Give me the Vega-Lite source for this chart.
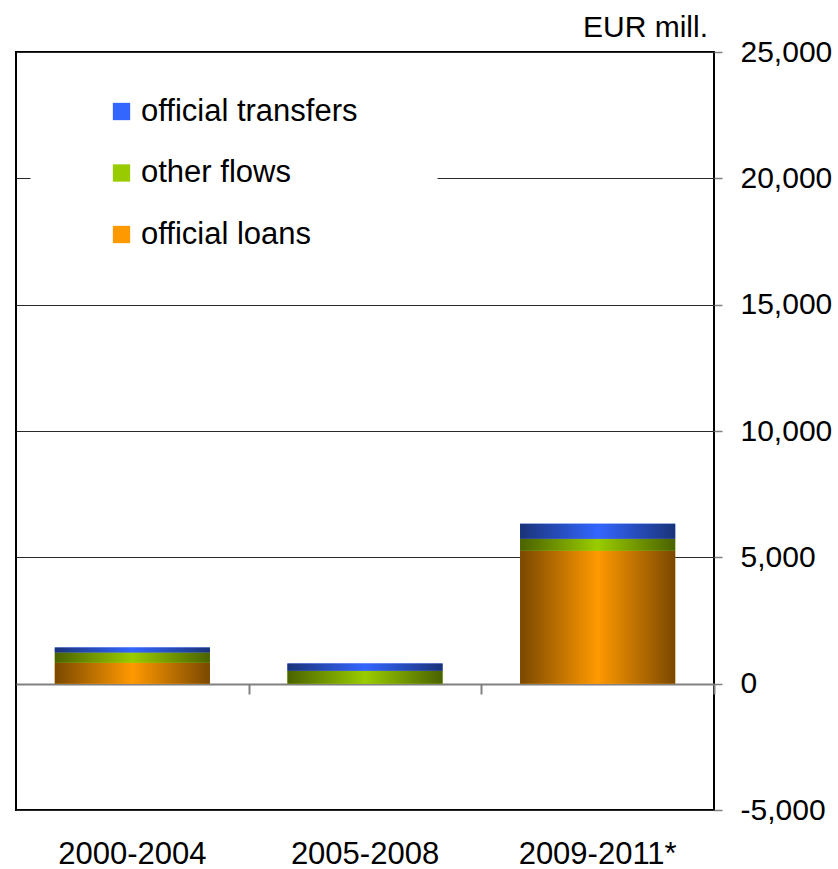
{
  "$schema": "https://vega.github.io/schema/vega-lite/v6.json",
  "width": 698,
  "height": 758,
  "autosize": {"type": "none"},
  "padding": {"left": 16, "top": 52, "right": 124, "bottom": 59},
  "background": "white",
  "title": {"text": "EUR mill.", "anchor": "end", "frame": "group", "fontSize": 30, "fontWeight": "normal", "color": "black", "font": "Liberation Sans", "offset": 8, "dx": -6, "dy": 14},
  "data": {"values": [
    {"period": "2000-2004", "series": "official loans", "value": 830},
    {"period": "2000-2004", "series": "other flows", "value": 400},
    {"period": "2000-2004", "series": "official transfers", "value": 200},
    {"period": "2005-2008", "series": "official loans", "value": 0},
    {"period": "2005-2008", "series": "other flows", "value": 515},
    {"period": "2005-2008", "series": "official transfers", "value": 280},
    {"period": "2009-2011*", "series": "official loans", "value": 5265},
    {"period": "2009-2011*", "series": "other flows", "value": 475},
    {"period": "2009-2011*", "series": "official transfers", "value": 594}
  ]},
  "transform": [
    {"stack": "value", "groupby": ["period"], "as": ["v0", "v1"]}
  ],
  "layer": [
    {
      "mark": {"type": "bar"},
      "encoding": {
        "x": {"field": "period", "type": "nominal", "sort": null,
          "scale": {"paddingInner": 0.333, "paddingOuter": 0.1667},
          "axis": {"orient": "bottom", "title": null, "domain": false, "ticks": false, "labelAngle": 0, "labelFontSize": 31, "labelColor": "black", "labelBaseline": "alphabetic", "labelPadding": 53, "labelFont": "Liberation Sans", "grid": false}},
        "y": {"field": "v0", "type": "quantitative",
          "scale": {"domain": [-5000, 25000], "nice": false, "zero": false},
          "axis": {"orient": "right", "title": null, "values": [-5000, 0, 5000, 10000, 15000, 20000, 25000], "labelExpr": "(datum.value < 0 ? '-' : '') + format(abs(datum.value), ',.0f')", "labelFontSize": 30, "labelColor": "black", "labelFont": "Liberation Sans", "labelAlign": "left", "labelPadding": 18, "tickSize": 8, "tickColor": "#808080", "tickWidth": 1.5, "domain": false, "grid": true,
            "gridColor": {"condition": {"test": "datum.value === 0", "value": "#808080"}, "value": "#2a2a2a"},
            "gridWidth": {"condition": {"test": "datum.value === 0", "value": 2}, "value": 1.2},
            "gridDash": {"condition": {"test": "datum.value === 20000", "value": [277, 407, 20, 0]}, "value": [2000, 0]}}},
        "y2": {"field": "v1"},
        "color": {"field": "series", "type": "nominal",
          "scale": {"domain": ["official transfers", "other flows", "official loans"], "range": ["#3366ff", "#99cc00", "#ff9900"]},
          "legend": {"orient": "none", "legendX": 90, "legendY": 44, "title": null, "symbolType": "square", "symbolSize": 300, "symbolStrokeWidth": 0, "labelFontSize": 31, "labelFont": "Liberation Sans", "labelColor": "black", "labelOffset": 4, "rowPadding": 29.5, "padding": 0, "labelLimit": 400}}
      }
    },
    {
      "mark": {"type": "bar"},
      "encoding": {
        "x": {"field": "period", "type": "nominal", "sort": null,
          "axis": {"orient": "bottom", "offset": -126, "title": null, "labels": false, "domain": false, "ticks": true, "tickOffset": 116.35, "tickSize": 10, "tickColor": "#808080", "tickWidth": 2, "grid": false}},
        "y": {"field": "v0", "type": "quantitative", "axis": null},
        "y2": {"field": "v1"},
        "color": {
          "condition": [
            {"test": "datum.series === 'official loans'", "value": {"gradient": "linear", "x1": 0, "x2": 1, "y1": 0, "y2": 0, "stops": [{"offset": 0, "color": "#7a4800"}, {"offset": 0.5, "color": "#ff9900"}, {"offset": 1, "color": "#7a4800"}]}},
            {"test": "datum.series === 'other flows'", "value": {"gradient": "linear", "x1": 0, "x2": 1, "y1": 0, "y2": 0, "stops": [{"offset": 0, "color": "#4a6200"}, {"offset": 0.5, "color": "#99cc00"}, {"offset": 1, "color": "#4a6200"}]}}
          ],
          "value": {"gradient": "linear", "x1": 0, "x2": 1, "y1": 0, "y2": 0, "stops": [{"offset": 0, "color": "#1a3378"}, {"offset": 0.5, "color": "#3366ff"}, {"offset": 1, "color": "#1a3378"}]}
        }
      }
    }
  ],
  "resolve": {"axis": {"x": "independent", "y": "independent"}},
  "config": {
    "font": "Liberation Sans",
    "view": {"stroke": "black", "strokeWidth": 2},
    "axis": {"labelFont": "Liberation Sans"}
  }
}
